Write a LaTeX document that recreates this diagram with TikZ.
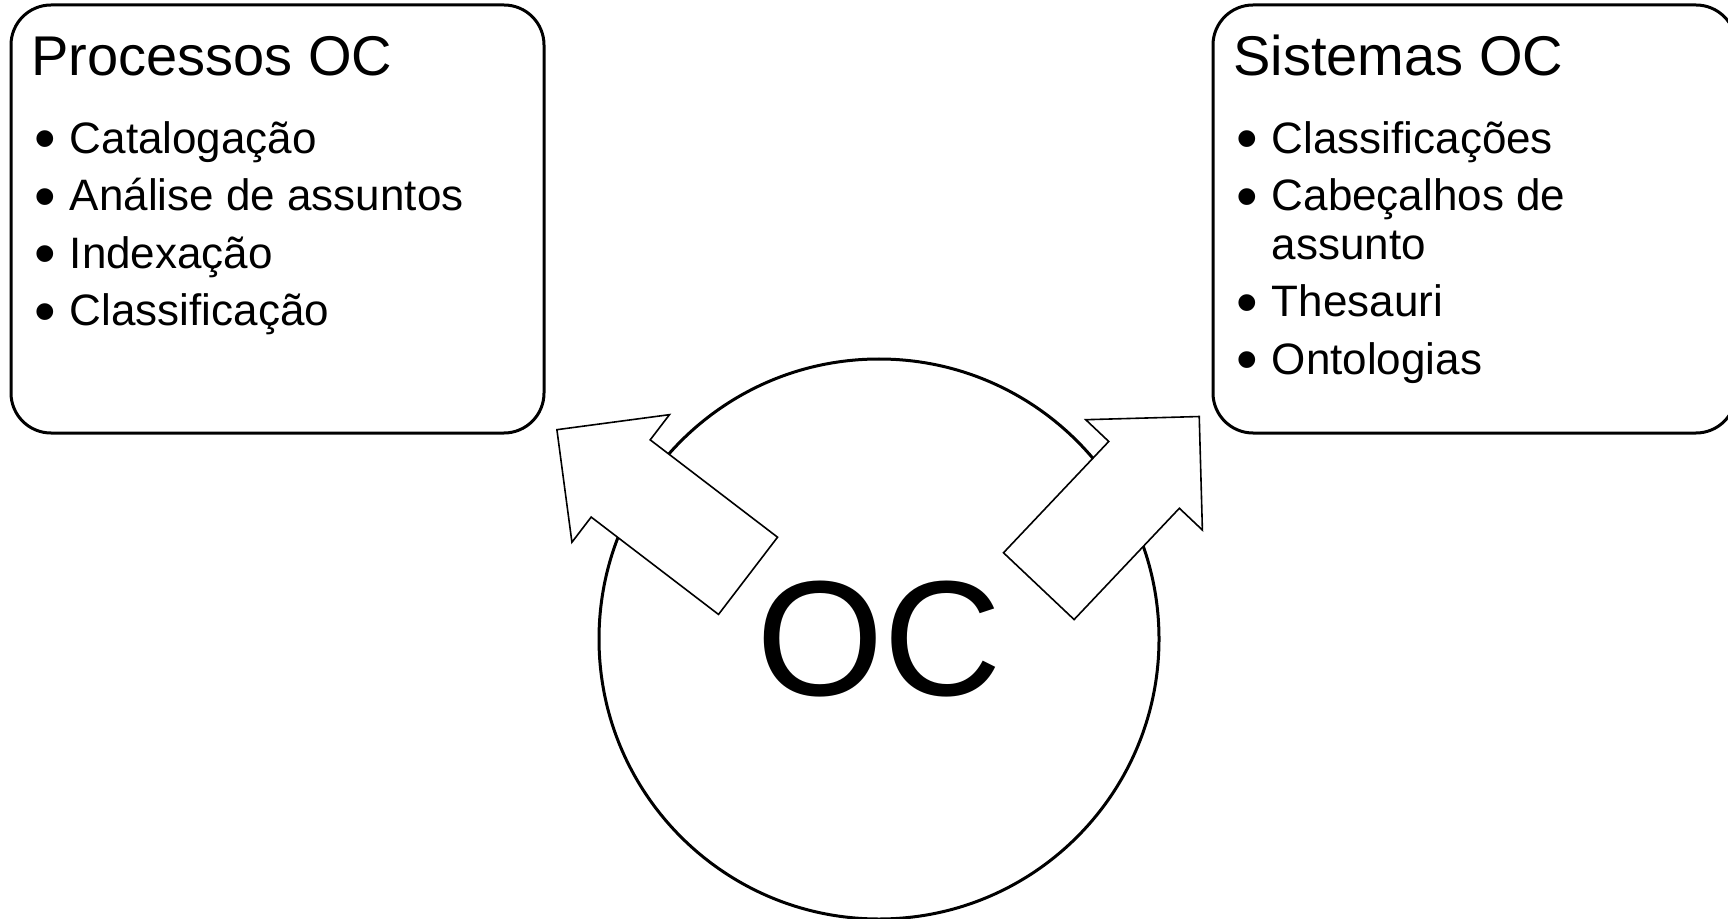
\documentclass[tikz,border=0pt]{standalone}
\usepackage{fontspec}
\setmainfont{Liberation Sans}
\usepackage{graphicx}
\usetikzlibrary{positioning,shapes.arrows}

\newcommand{\itm}[1]{\makebox[17.9pt][l]{\raisebox{-3.2pt}{\scalebox{1.4}{\textbullet}}}\begin{tabular}[t]{@{}l@{}}#1\end{tabular}}

\begin{document}
\begin{tikzpicture}
[x=0.5pt, y=-0.5pt,
 panel/.style={draw, line width=1.5pt, rounded corners=20pt, minimum height=214pt},
 head/.style={inner sep=0pt, anchor=base west, font=\fontsize{28}{33}\selectfont},
 item/.style={inner sep=0pt, anchor=base west, font=\fontsize{22}{24.25}\selectfont},
 blockarrow/.style={single arrow, draw, fill=white, line width=0.8pt,
   inner xsep=0pt, inner ysep=23.9pt, minimum width=0pt, minimum height=#1,
   single arrow head extend=15.85pt, single arrow tip angle=90,
   single arrow head indent=0pt, anchor=tip}]
\useasboundingbox (0,0) rectangle (1728,919);
% centre
\node[circle, draw, line width=1.5pt, minimum size=280pt, inner sep=0pt,
      font=\fontsize{82}{96}\selectfont] (oc) at (879,639) {OC};
\node[blockarrow=120.3pt, rotate=142.6] (toProc) at (556,429) {};
\node[blockarrow=116.75pt, rotate=46.6] (toSys) at (1200,415.7) {};
% left box
\node[panel, minimum width=266.5pt] (procBox) at (277.5,219) {};
\node[below right=35.85pt and 10.65pt of procBox.north west, head] (procTitle) {Processos OC};
\node[below right=39.15pt and 1.4pt of procTitle.base west, item] (proc1) {\itm{Catalogação}};
\node[below=28.75pt of proc1.base west, item] (proc2) {\itm{Análise de assuntos}};
\node[below=28.75pt of proc2.base west, item] (proc3) {\itm{Indexação}};
\node[below=28.75pt of proc3.base west, item] (proc4) {\itm{Classificação}};
% right box
\node[panel, minimum width=261.5pt] (sysBox) at (1474.5,219) {};
\node[below right=35.85pt and 10.65pt of sysBox.north west, head] (sysTitle) {Sistemas OC};
\node[below right=39.15pt and 1.4pt of sysTitle.base west, item] (sys1) {\itm{Classificações}};
\node[below=28.75pt of sys1.base west, item] (sys2) {\itm{Cabeçalhos de\\assunto}};
\node[below=53pt of sys2.base west, item] (sys3) {\itm{Thesauri}};
\node[below=28.75pt of sys3.base west, item] (sys4) {\itm{Ontologias}};
\end{tikzpicture}
\end{document}
